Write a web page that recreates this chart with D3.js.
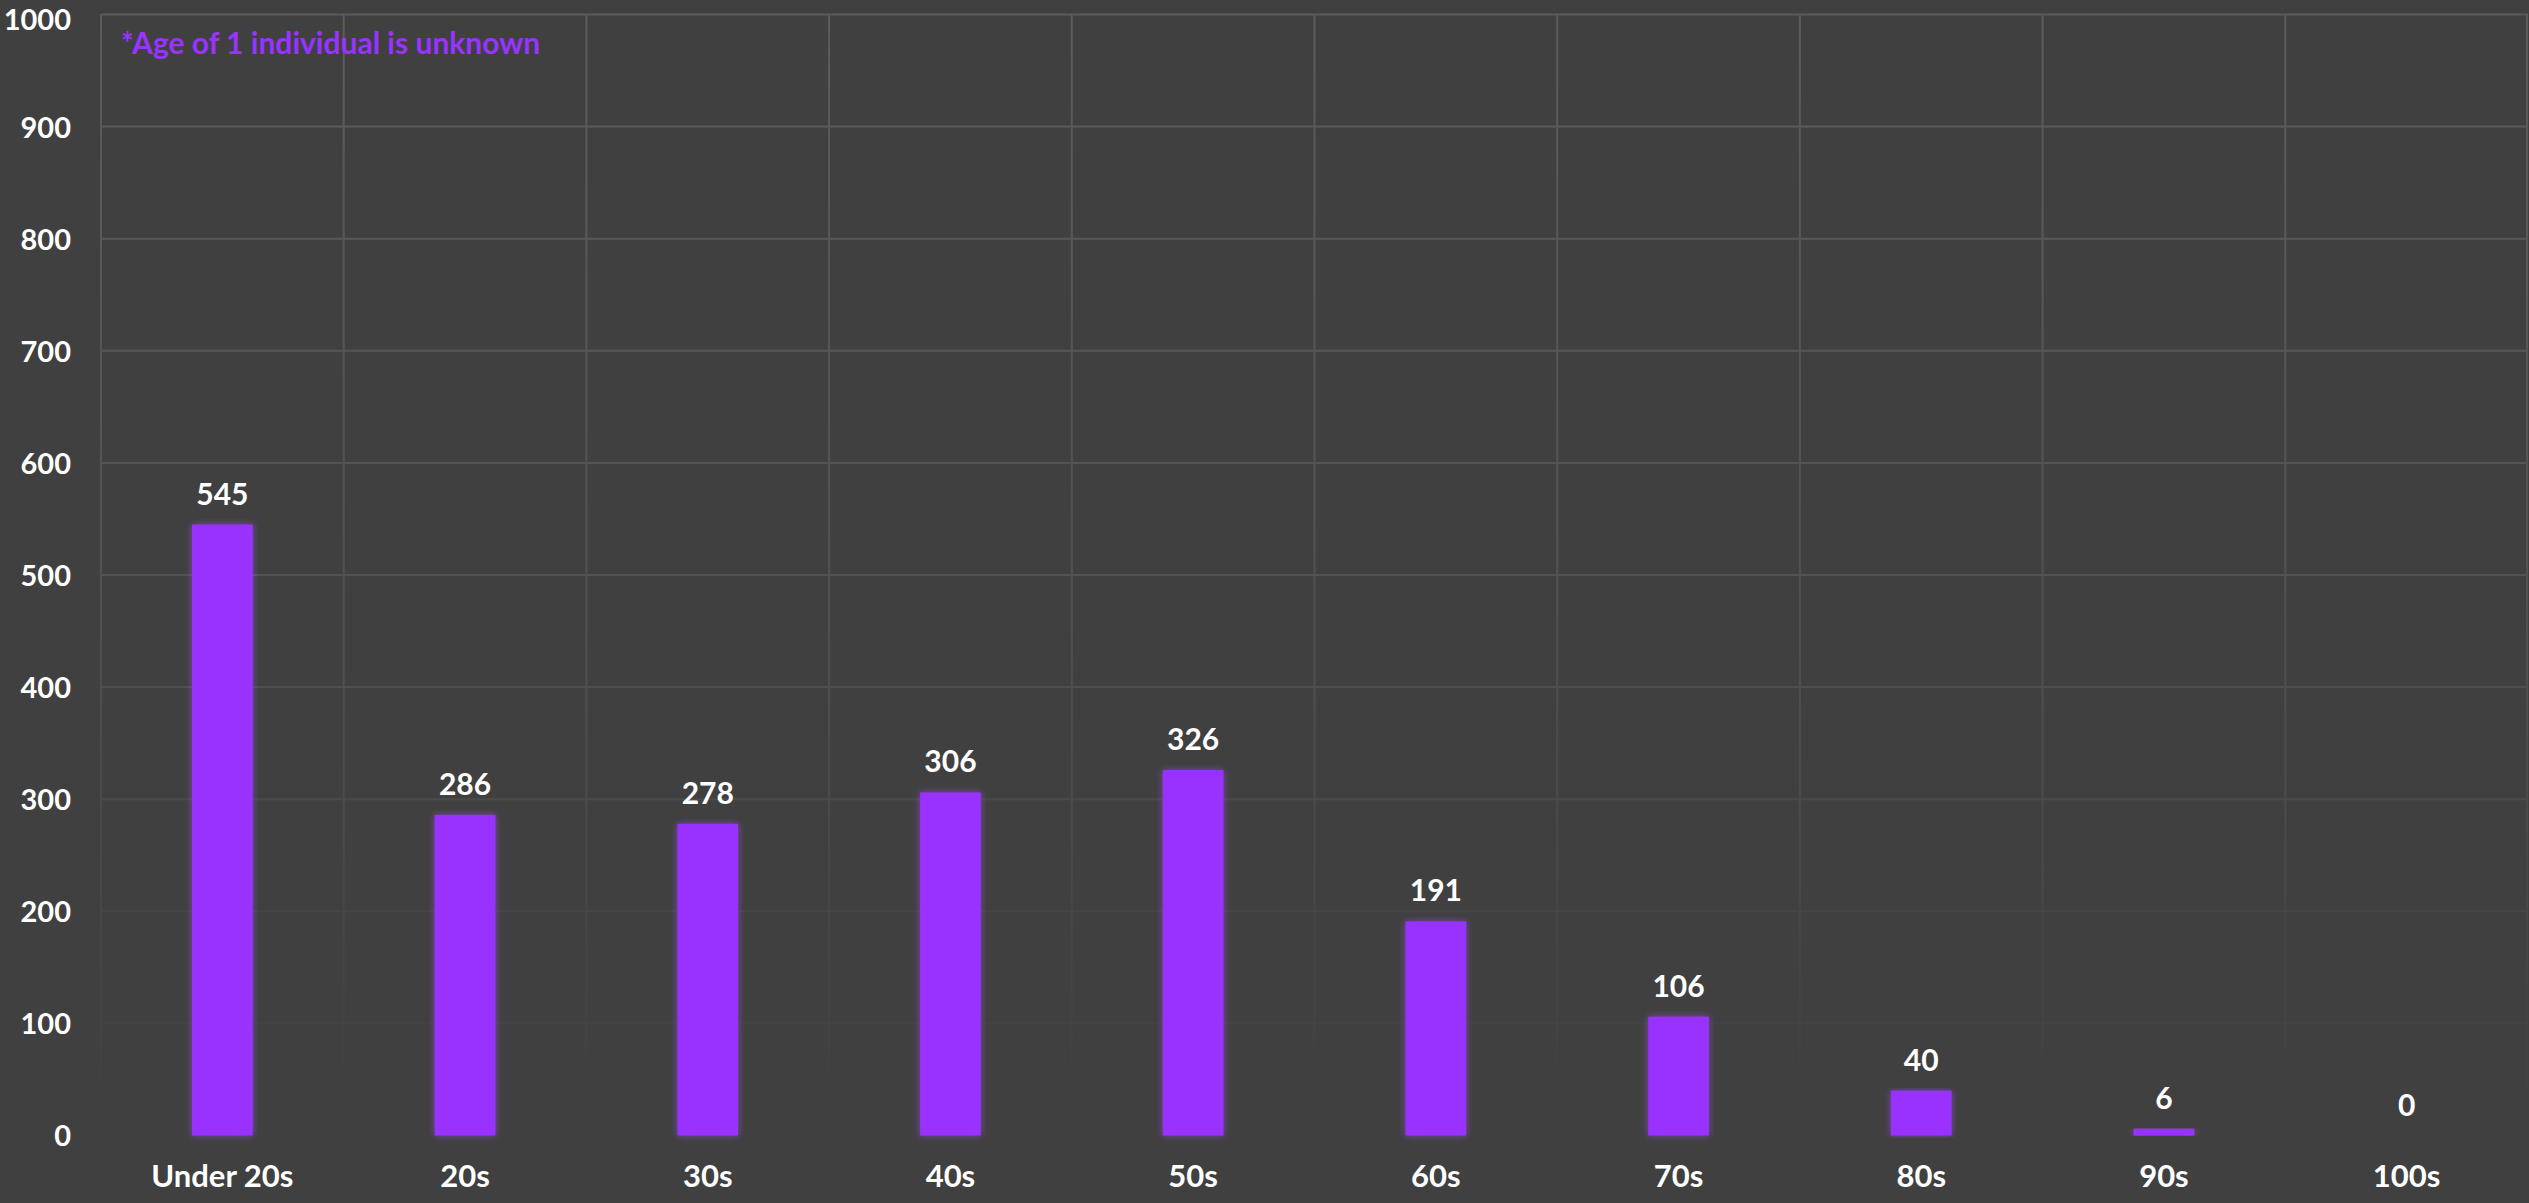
<!DOCTYPE html>
<html>
<head>
<meta charset="utf-8">
<script src="https://cdn.jsdelivr.net/npm/d3@7/dist/d3.min.js"></script>
<style>
  html, body { margin: 0; padding: 0; background: #404040; }
  svg { display: block; }
</style>
</head>
<body>
<svg id="chart" width="2529" height="1203"></svg>
<script>
const categories = ["Under 20s", "20s", "30s", "40s", "50s", "60s", "70s", "80s", "90s", "100s"];
const values = [545, 286, 278, 306, 326, 191, 106, 40, 6, 0];
const yTicks = [0, 100, 200, 300, 400, 500, 600, 700, 800, 900, 1000];
const note = "*Age of 1 individual is unknown";

const W = 2529, H = 1203;
const m = { left: 101, right: 1, top: 14.5, bottom: 67.5 };
const font = "Lato, 'Open Sans', sans-serif";
const purple = "#9933FF";

const svg = d3.select("#chart");
svg.append("rect").attr("width", W).attr("height", H).attr("fill", "#404040");

const defs = svg.append("defs");
const grad = defs.append("linearGradient")
  .attr("id", "gridGrad").attr("gradientUnits", "userSpaceOnUse")
  .attr("x1", 0).attr("x2", 0).attr("y1", m.top).attr("y2", H - m.bottom);
grad.append("stop").attr("offset", "0%").attr("stop-color", "#5c5c5c");
grad.append("stop").attr("offset", "55%").attr("stop-color", "#515151");
grad.append("stop").attr("offset", "85%").attr("stop-color", "#444444");
grad.append("stop").attr("offset", "100%").attr("stop-color", "#404040");

const glow = defs.append("filter").attr("id", "glow")
  .attr("x", "-30%").attr("y", "-5%").attr("width", "160%").attr("height", "110%");
glow.append("feGaussianBlur").attr("in", "SourceGraphic").attr("stdDeviation", 3.5).attr("result", "b");
glow.append("feColorMatrix").attr("in", "b").attr("type", "matrix")
  .attr("values", "1 0 0 0 0.05  0 1 0 0 0.05  0 0 1 0 0.05  0 0 0 0.6 0").attr("result", "bb");
const fm = glow.append("feMerge");
fm.append("feMergeNode").attr("in", "bb");
fm.append("feMergeNode").attr("in", "SourceGraphic");

const x = d3.scaleBand().domain(categories).range([m.left, W - m.right]).padding(0);
const y = d3.scaleLinear().domain([0, 1000]).range([H - m.bottom, m.top]);

// grid
const grid = svg.append("g");
grid.selectAll("line.h").data(yTicks.filter(t => t > 0)).join("line")
  .attr("x1", m.left).attr("x2", W - m.right)
  .attr("y1", d => y(d)).attr("y2", d => y(d))
  .attr("stroke", "url(#gridGrad)").attr("stroke-width", 2);
const vx = categories.map(c => x(c)).concat([x(categories[categories.length - 1]) + x.bandwidth()]);
grid.selectAll("line.v").data(vx).join("line")
  .attr("x1", d => Math.min(d, W - 2)).attr("x2", d => Math.min(d, W - 2))
  .attr("y1", m.top).attr("y2", H - m.bottom)
  .attr("stroke", "url(#gridGrad)").attr("stroke-width", 2);

// y axis labels
const yAxis = d3.axisLeft(y).tickValues(yTicks).tickFormat(d3.format("d")).tickSize(0).tickPadding(0);
const ya = svg.append("g").attr("transform", "translate(71,0)").call(yAxis);
ya.select(".domain").remove();
ya.selectAll("text").attr("fill", "#ffffff").attr("font-family", font)
  .attr("font-weight", "bold").attr("font-size", 29)
  .attr("dy", d => d === 1000 ? "0.5em" : "0.36em");

// x axis labels
const xAxis = d3.axisBottom(x).tickSize(0).tickPadding(0);
const xa = svg.append("g").attr("transform", `translate(0,${H - m.bottom})`).call(xAxis);
xa.select(".domain").remove();
xa.selectAll("text").attr("fill", "#ffffff").attr("font-family", font)
  .attr("font-weight", "bold").attr("font-size", 31).attr("dy", null).attr("y", 51);

// bars
const bw = x.bandwidth() * 0.25;
svg.append("g").selectAll("rect").data(values).join("rect")
  .attr("x", (d, i) => x(categories[i]) + (x.bandwidth() - bw) / 2)
  .attr("y", d => y(d))
  .attr("width", bw)
  .attr("height", d => y(0) - y(d))
  .attr("fill", purple)
  .attr("filter", "url(#glow)");

// value labels
svg.append("g").selectAll("text").data(values).join("text")
  .attr("x", (d, i) => x(categories[i]) + x.bandwidth() / 2)
  .attr("y", d => y(d) - 20)
  .attr("text-anchor", "middle")
  .attr("fill", "#ffffff").attr("font-family", font)
  .attr("font-weight", "bold").attr("font-size", 30)
  .text(d => d);

// note
svg.append("text").attr("x", 121).attr("y", 54)
  .attr("fill", purple).attr("font-family", font)
  .attr("font-weight", "bold").attr("font-size", 30)
  .text(note);
</script>
</body>
</html>
